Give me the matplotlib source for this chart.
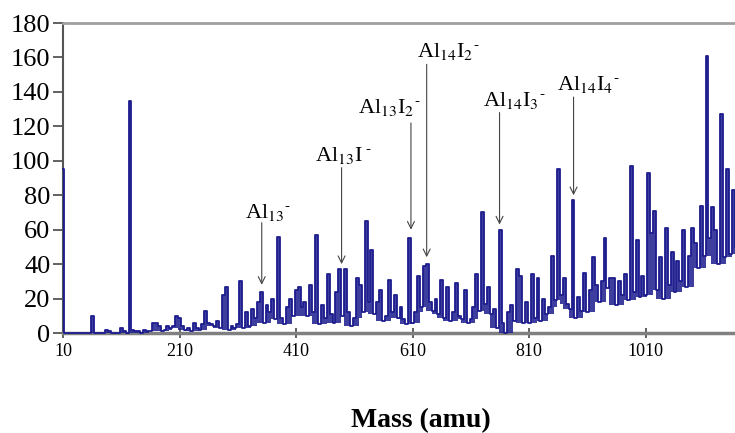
import numpy as np
import matplotlib
matplotlib.use("Agg")
import matplotlib.pyplot as plt

plt.rcParams["font.family"] = ["Liberation Serif", "DejaVu Serif"]
plt.rcParams["mathtext.fontset"] = "stix"

# noise floor of the spectrum, one value every 5 amu starting at 10 amu
baseline = [
    0, 0, 0, 0, 0, 0, 0, 0, 0, 0, 0, 0, 0, 0, 0, 2, 1, 0, 0, 0,            # 10-105
    3, 1, 0, 1, 2, 1, 1, 0, 2, 1, 1, 2, 6, 4, 1, 2, 4, 3, 4, 2,            # 110-205
    9, 4, 2, 3, 1, 6, 3, 2, 5, 13, 6, 5, 4, 7, 3, 6, 5, 2, 4, 3,           # 210-305
    5, 8, 3, 12, 4, 6, 9, 3, 10, 6, 4, 12, 5, 8, 3, 9, 5, 14, 6, 10,       # 310-405
    7, 4, 15, 6, 10, 3, 12, 8, 5, 16, 9, 4, 11, 6, 14, 5, 10, 7, 12, 4,    # 410-505
    9, 15, 6, 12, 4, 18, 8, 11, 5, 14, 7, 10, 3, 12, 6, 9, 4, 8, 5, 10,    # 510-605
    6, 12, 8, 15, 5, 10, 7, 13, 6, 11, 4, 9, 14, 7, 12, 5, 10, 8, 13, 6,   # 610-705
    8, 15, 5, 13, 9, 17, 4, 11, 14, 3, 10, 6, 0, 12, 16, 7, 2, 14, 6, 18,  # 710-805
    6, 16, 9, 18, 7, 20, 11, 15, 8, 19, 12, 22, 10, 17, 14, 24, 9, 21, 13, 25,    # 810-905
    12, 25, 15, 28, 18, 30, 14, 26, 20, 32, 16, 29, 22, 34, 19, 30, 24, 35, 21, 33,  # 910-1005
    22, 35, 18, 40, 25, 44, 20, 38, 28, 47, 24, 42, 30, 50, 27, 45, 33, 52, 38, 48,  # 1010-1105
    45, 38, 55, 42, 60, 40, 52, 44, 58, 46, 62, 50,                        # 1110-1165
]

# individual peaks (mass in amu, intensity)
peak_mass = [10, 60, 127, 163, 207, 253, 283, 290, 315, 335, 343, 351, 362, 372,
             382, 393, 400, 408, 417, 425, 435, 445, 465, 480, 487, 497, 513, 522,
             530, 540, 550, 557, 568, 580, 592, 607, 622, 629, 634, 640, 650, 659,
             672, 686, 698, 722, 732, 740, 759, 788, 797, 816, 825, 850, 858, 870,
             884, 904, 919, 938, 950, 964, 976, 987, 994, 1013, 1019, 1024, 1047,
             1073, 1088, 1105, 1114, 1124, 1141, 1148, 1158]
peak_height = [95, 10, 135, 6, 10, 13, 22, 27, 30, 14, 18, 24, 16, 20,
               56, 15, 20, 25, 27, 18, 28, 57, 34, 24, 37, 37, 32, 28,
               65, 48, 18, 25, 31, 22, 15, 55, 33, 39, 40, 18, 20, 31,
               27, 29, 25, 34, 70, 27, 60, 37, 33, 34, 32, 45, 95, 32,
               77, 35, 44, 55, 32, 30, 33, 97, 54, 93, 58, 71, 61,
               60, 61, 74, 161, 73, 127, 95, 83]

# cluster assignments
labels = [r"Al$_{13}$$^{\text{-}}$", r"Al$_{13}$I$^{\text{ -}}$", r"Al$_{13}$I$_{2}$$^{\text{-}}$",
          r"Al$_{14}$I$_{2}$$^{\text{-}}$", r"Al$_{14}$I$_{3}$$^{\text{-}}$", r"Al$_{14}$I$_{4}$$^{\text{-}}$"]
label_mass = [351, 488, 607, 634, 759, 886]

mass = 10 + 5 * np.arange(len(baseline))
intensity = np.array(baseline, dtype=float)
for m, h in zip(peak_mass, peak_height):
    i = int(np.argmin(np.abs(mass - m)))
    intensity[i] = max(intensity[i], h)

# lower edge of the noise band: local minimum of the trace (+-2 samples)
padded = np.pad(intensity, 2, mode="edge")
low = np.lib.stride_tricks.sliding_window_view(padded, 5).min(axis=1)

fig = plt.figure(figsize=(7.35, 4.33), dpi=100)
ax = fig.add_axes([63 / 735, 100 / 433, 1 - 63 / 735, 310 / 433])

color = "#1c1c8e"
ax.fill_between(mass, low, intensity, step="mid", color=color, lw=0,
                alpha=0.85, zorder=3)
ax.plot(mass, intensity, drawstyle="steps-mid", color=color, lw=1.3,
        zorder=3, clip_on=False)

# text placement (left edge, baseline) and arrow extent, in data units
text_x = [322, 442, 516, 617, 730, 857]
text_y = [67, 100, 128, 160, 132, 141]
arrow_top = [64, 96, 122, 156, 128, 137]
arrow_tip = [28, 40, 60, 44, 63, 80]

for lab, m, tx, ty, a0, a1 in zip(labels, label_mass, text_x, text_y, arrow_top, arrow_tip):
    ax.text(tx, ty, lab, fontsize=16, ha="left", va="baseline", zorder=4)
    ax.annotate("", xy=(m, a1), xytext=(m, a0),
                arrowprops=dict(arrowstyle="->,head_length=0.5,head_width=0.25",
                                color="#444444", lw=0.8, shrinkA=0, shrinkB=0),
                zorder=4)

ax.set_xlim(10, 1163)
ax.set_ylim(0, 180)
ax.set_xticks([10, 210, 410, 610, 810, 1010])
ax.set_yticks(range(0, 181, 20))

ax.spines["right"].set_visible(False)
ax.spines["top"].set_color("#a0a0a0")
ax.spines["top"].set_linewidth(2)
ax.spines["bottom"].set_color("#808080")
ax.spines["bottom"].set_linewidth(2.5)
ax.spines["left"].set_color("#555555")
ax.spines["left"].set_linewidth(1.5)

ax.tick_params(axis="y", direction="out", length=7, width=1.3, color="#555555",
               labelsize=19, pad=2)
ax.tick_params(axis="x", direction="inout", length=7, width=1.3, color="#555555",
               labelsize=13, pad=4)

fig.text(421 / 735, 6 / 433, "Mass (amu)", ha="center", va="baseline",
         fontsize=20, fontweight="bold")

fig.savefig("out.png", dpi=100)
